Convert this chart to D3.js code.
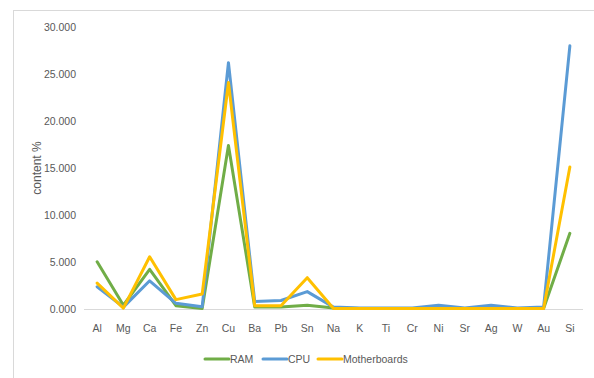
<!DOCTYPE html>
<html><head><meta charset="utf-8">
<script src="https://cdn.jsdelivr.net/npm/d3@7"></script>
<style>body{margin:0;background:#fff}svg{display:block}</style>
</head><body>
<script>
const categories = ["Al","Mg","Ca","Fe","Zn","Cu","Ba","Pb","Sn","Na","K","Ti","Cr","Ni","Sr","Ag","W","Au","Si"];
const ram = [5.03,0.4,4.22,0.35,0.05,17.4,0.2,0.2,0.4,0.1,0.05,0.05,0.05,0.05,0.05,0.05,0.05,0.05,8.05];
const cpu = [2.37,0.2,3.0,0.6,0.25,26.2,0.8,0.9,1.85,0.2,0.1,0.1,0.1,0.4,0.1,0.4,0.1,0.2,28.0];
const motherboards = [2.76,0.1,5.56,1.0,1.6,24.1,0.35,0.35,3.33,0.05,0.05,0.05,0.05,0.05,0.05,0.05,0.05,0.05,15.1];
const yTicks = [0,5,10,15,20,25,30];
const seriesNames = ["RAM","CPU","Motherboards"];
const colors = ["#70AD47","#5B9BD5","#FFC000"];
const seriesData = [ram, cpu, motherboards];

const W = 594, H = 378;
const svg = d3.select("body").append("svg").attr("width", W).attr("height", H);
const font = "'Liberation Sans Narrow','Arial Narrow','Liberation Sans',sans-serif";
const textColor = "#595959";

svg.append("rect").attr("x", 13.5).attr("y", 10.5).attr("width", 700).attr("height", 500)
  .attr("fill", "#fff").attr("stroke", "#d9d9d9");

const x = d3.scalePoint().domain(categories).range([84, 583]).padding(0.5);
const y = d3.scaleLinear().domain([0, 30]).range([309, 27]);

// y tick labels
svg.append("g").selectAll("text").data(yTicks).join("text")
  .attr("x", 76).attr("y", d => y(d)).attr("dy", "0.35em")
  .attr("text-anchor", "end").attr("font-family", font).attr("font-size", 10.5)
  .attr("fill", textColor).text(d => d3.format(".3f")(d));

// zero axis line
svg.append("line").attr("x1", 84).attr("x2", 583).attr("y1", y(0)+0.5).attr("y2", y(0)+0.5)
  .attr("stroke", "#d9d9d9").attr("stroke-width", 1);

// x labels
svg.append("g").selectAll("text").data(categories).join("text")
  .attr("x", d => x(d)).attr("y", 328).attr("dy", "0.35em")
  .attr("text-anchor", "middle").attr("font-family", font).attr("font-size", 10.5)
  .attr("fill", textColor).text(d => d);

// y title
svg.append("text").attr("transform", "translate(37,168) rotate(-90)")
  .attr("text-anchor", "middle").attr("dy", "0.35em")
  .attr("font-family", font).attr("font-size", 12).attr("fill", textColor)
  .text("content %");

const line = d3.line().x((d, i) => x(categories[i])).y(d => y(d));
seriesData.forEach((s, k) => {
  svg.append("path").datum(s).attr("d", line).attr("fill", "none")
    .attr("stroke", colors[k]).attr("stroke-width", 3).attr("stroke-linejoin", "round").attr("stroke-linecap", "round");
});

// legend
const legendX = [205, 263, 318];
seriesNames.forEach((n, k) => {
  const g = svg.append("g");
  g.append("line").attr("x1", legendX[k]).attr("x2", legendX[k] + 24).attr("y1", 359).attr("y2", 359)
    .attr("stroke", colors[k]).attr("stroke-width", 3).attr("stroke-linecap", "round");
  g.append("text").attr("x", legendX[k] + 25).attr("y", 359).attr("dy", "0.35em")
    .attr("font-family", font).attr("font-size", 10.5).attr("fill", textColor).text(n);
});
</script>
</body></html>
